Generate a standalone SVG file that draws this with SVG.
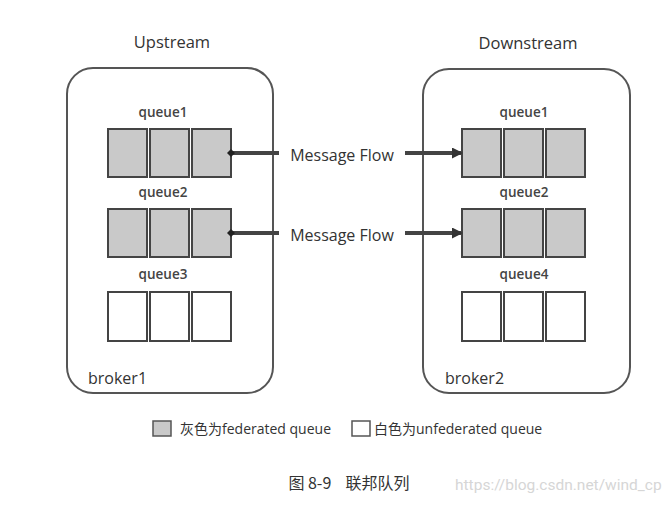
<svg xmlns="http://www.w3.org/2000/svg" width="672" height="506" viewBox="0 0 672 506">
<defs>
<marker id="arr" markerWidth="11" markerHeight="11" refX="10" refY="5.5" orient="auto" markerUnits="userSpaceOnUse">
<path d="M0,0 L11,5.5 L0,11 Z" fill="#333"/>
</marker>
<marker id="dot" markerWidth="8" markerHeight="8" refX="4" refY="4" orient="auto" markerUnits="userSpaceOnUse">
<path d="M0,4 L4,0 L8,4 L4,8 Z" fill="#222"/>
</marker>
</defs>
<style>
.broker{fill:#fff;stroke:#555;stroke-width:2}
.g{fill:#c9c9c9;stroke:#444;stroke-width:2}
.w{fill:#fff;stroke:#444;stroke-width:2}
.title{font-family:"Open Sans","Noto Sans",sans-serif;font-size:16.5px;fill:#333;text-anchor:middle}
.q{font-family:"Open Sans","Noto Sans",sans-serif;font-size:13.5px;font-weight:600;fill:#444;text-anchor:middle}
.br{font-family:"Open Sans","Noto Sans",sans-serif;font-size:16px;fill:#333}
.mf{font-family:"Open Sans","Noto Sans",sans-serif;font-size:16px;fill:#333;text-anchor:middle}
.flow{stroke:#444;stroke-width:4;fill:none}
.leg{font-family:"Open Sans","Noto Sans CJK SC",sans-serif;font-size:14px;fill:#333}
.cap{font-family:"Noto Sans CJK SC",sans-serif;font-size:16px;fill:#333;text-anchor:middle}
.wm{font-family:"Roboto","Liberation Sans",sans-serif;font-size:15.5px;fill:#d6d6d6}
</style>
<rect width="672" height="506" fill="#fff"/>
<text class="title" x="172" y="48">Upstream</text>
<text class="title" x="528" y="49">Downstream</text>
<g id="broker1">
<rect class="broker" x="67" y="68" width="206" height="325" rx="26"/>
<text class="q" x="163" y="117">queue1</text>
<rect class="g" x="108" y="129" width="39" height="48"/>
<rect class="g" x="150" y="129" width="39" height="48"/>
<rect class="g" x="192" y="129" width="39" height="48"/>
<text class="q" x="163" y="197">queue2</text>
<rect class="g" x="108" y="209" width="39" height="48"/>
<rect class="g" x="150" y="209" width="39" height="48"/>
<rect class="g" x="192" y="209" width="39" height="48"/>
<text class="q" x="163" y="279">queue3</text>
<rect class="w" x="108" y="292" width="39" height="49"/>
<rect class="w" x="150" y="292" width="39" height="49"/>
<rect class="w" x="192" y="292" width="39" height="49"/>
<text class="br" x="88" y="384">broker1</text>
</g>
<g id="broker2">
<rect class="broker" x="423" y="69" width="207" height="324" rx="26"/>
<text class="q" x="524" y="117">queue1</text>
<rect class="g" x="462" y="129" width="39" height="48"/>
<rect class="g" x="504" y="129" width="39" height="48"/>
<rect class="g" x="546" y="129" width="39" height="48"/>
<text class="q" x="524" y="197">queue2</text>
<rect class="g" x="462" y="209" width="39" height="48"/>
<rect class="g" x="504" y="209" width="39" height="48"/>
<rect class="g" x="546" y="209" width="39" height="48"/>
<text class="q" x="524" y="279">queue4</text>
<rect class="w" x="462" y="292" width="39" height="49"/>
<rect class="w" x="504" y="292" width="39" height="49"/>
<rect class="w" x="546" y="292" width="39" height="49"/>
<text class="br" x="445" y="384">broker2</text>
</g>
<g id="connectors">
<line class="flow" x1="231" y1="153" x2="279" y2="153" marker-start="url(#dot)"/>
<line class="flow" x1="405" y1="153" x2="462" y2="153" marker-end="url(#arr)"/>
<text class="mf" x="342" y="161">Message Flow</text>
<line class="flow" x1="231" y1="233" x2="279" y2="233" marker-start="url(#dot)"/>
<line class="flow" x1="405" y1="233" x2="462" y2="233" marker-end="url(#arr)"/>
<text class="mf" x="342" y="241">Message Flow</text>
</g>
<g id="legend">
<rect x="153" y="421" width="18" height="15" fill="#c9c9c9" stroke="#555" stroke-width="1.5"/>
<text class="leg" x="180" y="434">灰色为federated queue</text>
<rect x="352" y="421" width="18" height="15" fill="#fff" stroke="#555" stroke-width="1.5"/>
<text class="leg" x="374" y="434">白色为unfederated queue</text>
</g>
<text class="cap" x="349" y="489" xml:space="preserve">图 8-9    联邦队列</text>
<text class="wm" x="455" y="490">https://blog.csdn.net/wind_cp</text>
</svg>
